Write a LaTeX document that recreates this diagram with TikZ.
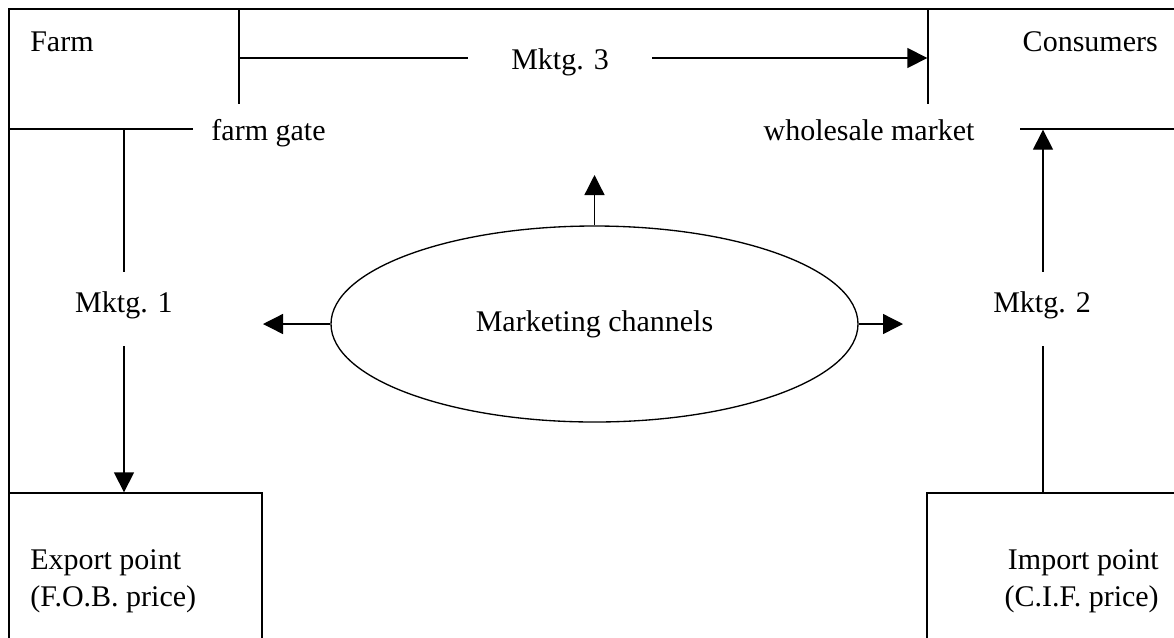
\documentclass[tikz,border=0pt]{standalone}
\usepackage{fontspec}
\setmainfont{Liberation Serif}
\usetikzlibrary{shapes.geometric,arrows.meta}
\begin{document}
\begin{tikzpicture}[x=0.75pt,y=-0.75pt,
  every node/.style={font=\fontsize{22.5pt}{27.75pt}\selectfont},
  box/.style={draw, line width=1pt, inner sep=0pt, rectangle},
  frame/.style={line width=2.1pt},
  conn/.style={line width=1pt, -{Triangle[length=15pt,width=15pt]}},
  cover/.style={fill=white, inner sep=0pt, text height=0.7em, text depth=0.25em},
  txt/.style={inner sep=0pt}]
\useasboundingbox (0,0) rectangle (1174,637);
\clip (0,0) rectangle (1174,637);

% boxes
\node[box, minimum width=172.5pt, minimum height=90pt] (farm) at (124,69) {};
\node[box, minimum width=279pt, minimum height=90pt] (cons) at (1114,69) {};
\node[box, minimum width=189.75pt, minimum height=230.25pt] (export) at (135.5,646.5) {};
\node[box, minimum width=279.75pt, minimum height=230.25pt] (import) at (1113.5,646.5) {};

% box texts
\node[txt, anchor=base west] (farmt) at (30,51) {Farm};
\node[txt, anchor=base east] (const) at (1158,51) {Consumers};
\node[txt, anchor=west, align=left] (expt) at (30,581.5) {Export point\\(F.O.B. price)};
\node[txt, anchor=east, align=right] (impt) at (1159,581.5) {Import point\\(C.I.F. price)};

% marketing channels
\node[draw, ellipse, line width=1pt, minimum width=395.25pt, minimum height=147pt, inner sep=0pt] (mc) at (594.5,324) {Marketing channels};
\coordinate (lt) at (263,324);
\coordinate (rt) at (903,324);
\coordinate (up) at (594.5,175);
\draw[conn] (mc.west) -- (lt);
\draw[conn] (mc.east) -- (rt);
\draw[conn] (mc.north) -- (up);

% Mktg. 3
\coordinate (m3) at (0,58);
\draw[conn] (farm.east |- m3) -- (cons.west |- m3);
\node[cover, minimum width=138pt, minimum height=36pt] (mk3) at (560,66) {Mktg. 3};

% Mktg. 1
\draw[conn] (farm.south) -- (farm.south |- export.north);
\node[cover, minimum width=90pt, minimum height=55.5pt] (mk1) at (124,309) {Mktg. 1};

% Mktg. 2
\coordinate (m2) at (1043,0);
\draw[conn] (import.north -| m2) -- (cons.south -| m2);
\node[cover, minimum width=90pt, minimum height=55.5pt] (mk2) at (1042,309) {Mktg. 2};

% price points
\node[cover, minimum width=113.25pt, minimum height=49.5pt] (fg) at (268.5,137) {farm gate};
\node[cover, minimum width=226.5pt, minimum height=49.5pt] (wm) at (869,137) {wholesale market};

% outer frame
\draw[frame] (9,700) -- (9,9) -- (1250,9);
\end{tikzpicture}
\end{document}
